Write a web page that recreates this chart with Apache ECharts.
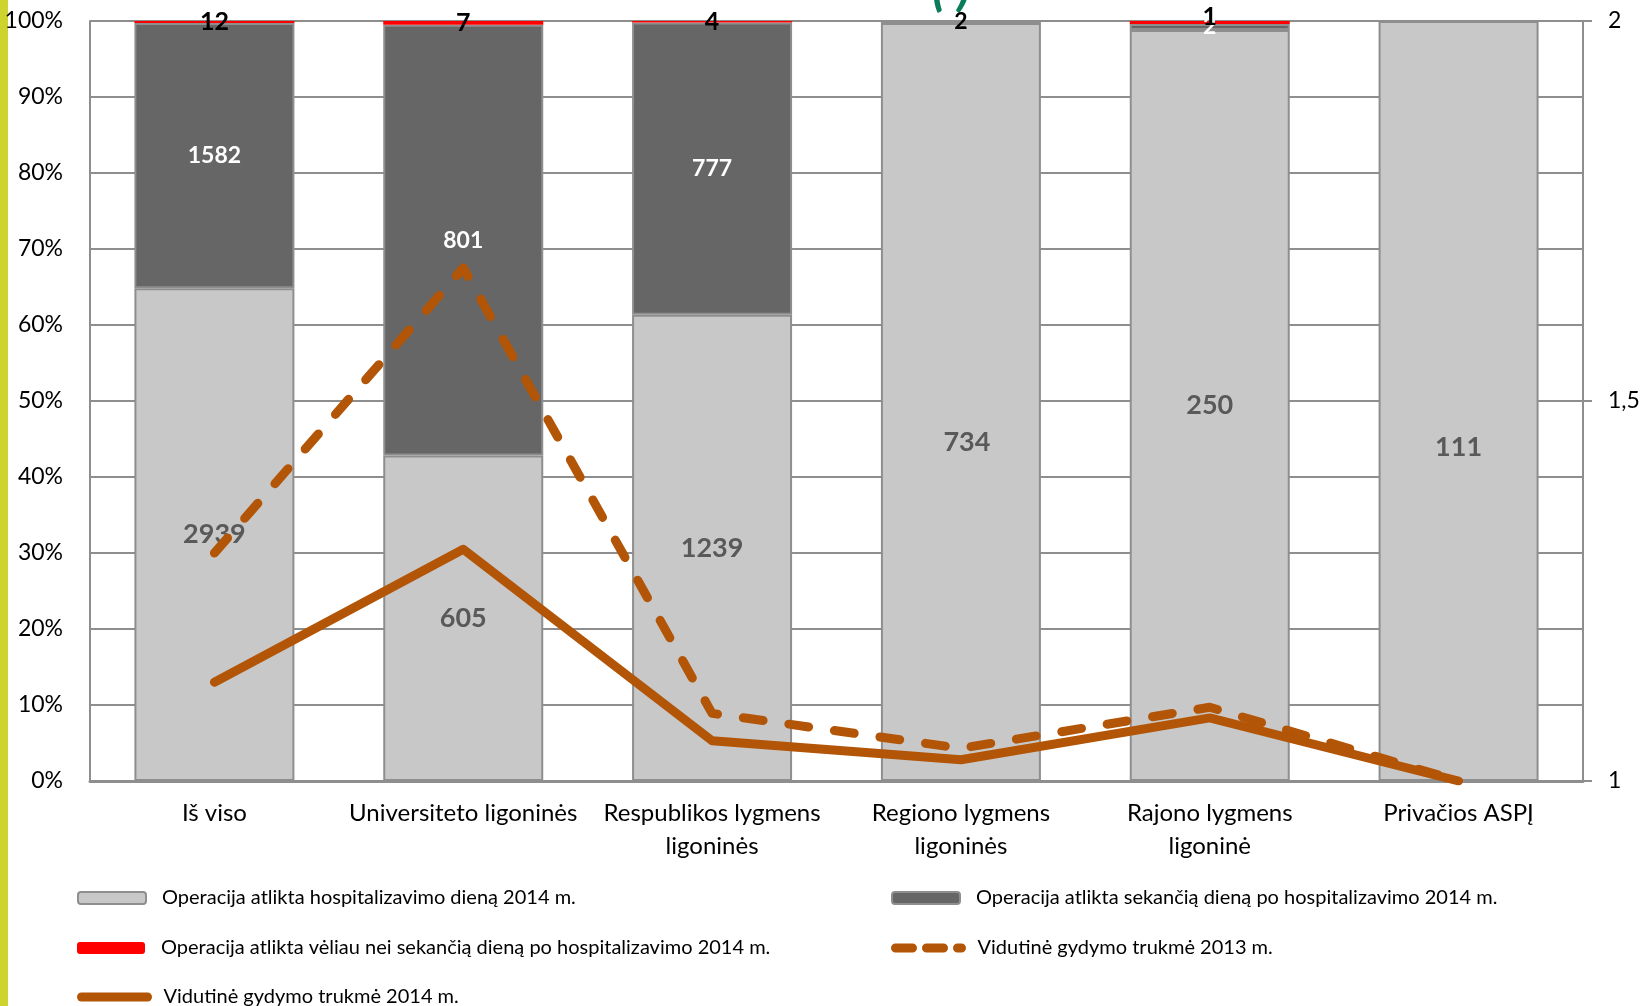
<!DOCTYPE html>
<html>
<head>
<meta charset="utf-8">
<script src="https://cdn.jsdelivr.net/npm/echarts@6/dist/echarts.min.js"></script>
<style>
  html, body { margin: 0; padding: 0; background: #fff; }
  #ops_chart { width: 1643px; height: 1006px; }
</style>
</head>
<body>
<div id="ops_chart"></div>
<script>
const categories = ['Iš viso', 'Universiteto ligoninės', 'Respublikos lygmens ligoninės', 'Regiono lygmens ligoninės', 'Rajono lygmens ligoninė', 'Privačios ASPĮ'];
// operaciju skaiciai
const sameDay = [2939, 605, 1239, 734, 250, 111];
const nextDay = [1582, 801, 777, 2, 2, 0];
const laterDay = [12, 7, 4, 0, 1, 0];
// vidutine gydymo trukme
const stay2014 = [1.13, 1.305, 1.053, 1.028, 1.083, 1.0];
const stay2013 = [1.30, 1.675, 1.089, 1.043, 1.097, 1.0];
const percentTicks = [0, 10, 20, 30, 40, 50, 60, 70, 80, 90, 100];
const stayTicks = [1, 1.5, 2];

const names = {
  same: 'Operacija atlikta hospitalizavimo dieną 2014 m.',
  next: 'Operacija atlikta sekančią dieną po hospitalizavimo 2014 m.',
  later: 'Operacija atlikta vėliau nei sekančią dieną po hospitalizavimo 2014 m.',
  y2013: 'Vidutinė gydymo trukmė 2013 m.',
  y2014: 'Vidutinė gydymo trukmė 2014 m.'
};

const FONT = 'Lato';
const GRID_GRAY = '#8E8E8E';
const BROWN = '#B35506';

let totals = sameDay.map((v, i) => v + nextDay[i] + laterDay[i]);
let toPct = (arr) => arr.map((v, i) => v / totals[i] * 100);

// label tweaks like in the original excel chart
let sameNudge = {3: [6, 40], 5: [0, 46]};
let nextLabelColor = {3: '#000'};
let laterNudge = {4: [0, -6]};

function countLabel(counts) {
  return (p) => counts[p.dataIndex] ? String(counts[p.dataIndex]) : '';
}

// long names go on two lines: "xxx lygmens" / "ligoninės"
function wrapCategory(name) {
  let words = name.split(' ');
  if (words.length <= 2) return name;
  return words.slice(0, 2).join(' ') + '\n' + words.slice(2).join(' ');
}

let sameData = toPct(sameDay).map((v, i) => sameNudge[i] ? {value: v, label: {offset: sameNudge[i]}} : v);
let nextData = toPct(nextDay).map((v, i) => nextLabelColor[i] ? {value: v, label: {color: nextLabelColor[i]}} : v);
let laterData = toPct(laterDay).map((v, i) => laterNudge[i] ? {value: v, label: {offset: laterNudge[i]}} : v);

let legendText = {fontFamily: FONT, fontSize: 20, color: '#000', padding: [0, 0, 0, 11], lineHeight: 24};
function legendAt(name, left, top, lineType) {
  let lg = {
    data: [name], left: left, top: top, orient: 'horizontal',
    itemWidth: 68, itemHeight: 12, selectedMode: false,
    textStyle: legendText
  };
  if (lineType) {
    lg.itemWidth = 66;
    lg.lineStyle = {width: 9, type: lineType, cap: 'round', join: 'round'};
    lg.itemStyle = {color: 'rgba(0,0,0,0)', borderWidth: 0};
  }
  return lg;
}

let myChart = echarts.init(document.getElementById('ops_chart'));
myChart.setOption({
  animation: false,
  backgroundColor: '#fff',
  textStyle: {fontFamily: FONT},
  graphic: [
    {type: 'rect', left: 0, top: 0, shape: {width: 8, height: 1006}, style: {fill: '#CDD42E'}},
    {type: 'text', left: 932, top: -38, style: {text: '( )', font: 'italic bold 52px Lato', fill: '#0B7B5C'}}
  ],
  legend: [
    legendAt(names.same, 72, 881),
    legendAt(names.next, 886, 881),
    legendAt(names.later, 72, 931),
    legendAt(names.y2013, 886, 931, [17, 14]),
    legendAt(names.y2014, 72, 980, 'solid')
  ],
  grid: {left: 90, right: 60, top: 21, bottom: 225, containLabel: false},
  xAxis: {
    type: 'category',
    data: categories,
    axisLine: {lineStyle: {color: GRID_GRAY, width: 3}},
    axisTick: {show: false},
    axisLabel: {
      interval: 0, fontSize: 24, lineHeight: 33, color: '#000', fontFamily: FONT,
      margin: 16, formatter: wrapCategory
    }
  },
  yAxis: [
    {
      type: 'value', min: percentTicks[0], max: percentTicks[percentTicks.length - 1], interval: 10,
      axisLine: {show: true, lineStyle: {color: GRID_GRAY, width: 2}},
      axisTick: {show: false},
      splitLine: {lineStyle: {color: GRID_GRAY, width: 2}},
      axisLabel: {formatter: '{value}%', fontSize: 23, color: '#000', margin: 27, fontFamily: FONT}
    },
    {
      type: 'value', min: stayTicks[0], max: stayTicks[stayTicks.length - 1], interval: 0.5,
      position: 'right',
      axisLine: {show: true, lineStyle: {color: GRID_GRAY, width: 2}},
      axisTick: {show: true, length: 9, lineStyle: {color: GRID_GRAY, width: 2}},
      splitLine: {show: false},
      axisLabel: {
        formatter: (v) => String(v).replace('.', ','),
        fontSize: 23, color: '#000', margin: 25, fontFamily: FONT
      }
    }
  ],
  series: [
    {
      name: names.same, type: 'bar', stack: 'ops', barWidth: 160,
      itemStyle: {color: '#C8C8C8', borderColor: GRID_GRAY, borderWidth: 2},
      label: {
        show: true, position: 'inside', color: '#595959', fontWeight: 'bold', fontSize: 27,
        fontFamily: FONT, formatter: countLabel(sameDay)
      },
      data: sameData
    },
    {
      name: names.next, type: 'bar', stack: 'ops', barWidth: 160,
      itemStyle: {color: '#666666', borderColor: GRID_GRAY, borderWidth: 2},
      label: {
        show: true, position: 'inside', color: '#fff', fontWeight: 'bold', fontSize: 23,
        fontFamily: FONT, formatter: countLabel(nextDay)
      },
      data: nextData
    },
    {
      name: names.later, type: 'bar', stack: 'ops', barWidth: 160,
      itemStyle: {color: '#FF0000', borderColor: GRID_GRAY, borderWidth: 0},
      label: {
        show: true, position: 'inside', color: '#000', fontWeight: 'bold', fontSize: 25,
        fontFamily: FONT, formatter: countLabel(laterDay)
      },
      data: laterData
    },
    {
      name: names.y2013, type: 'line', yAxisIndex: 1, z: 5,
      symbol: 'none', smooth: false,
      lineStyle: {color: BROWN, width: 9, type: [20, 26], cap: 'round', join: 'round'},
      itemStyle: {color: BROWN},
      data: stay2013
    },
    {
      name: names.y2014, type: 'line', yAxisIndex: 1, z: 5,
      symbol: 'none', smooth: false,
      lineStyle: {color: BROWN, width: 9, cap: 'round', join: 'round'},
      itemStyle: {color: BROWN},
      data: stay2014
    }
  ]
});
</script>
</body>
</html>
